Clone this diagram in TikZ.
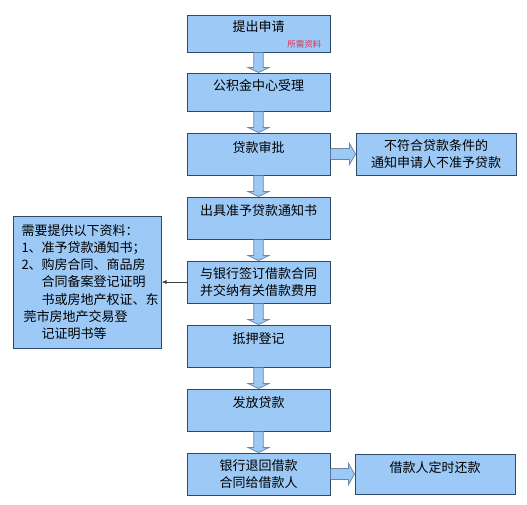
\documentclass[tikz,border=0pt]{standalone}
\usepackage{fontspec}
\setmainfont{Noto Sans CJK SC}
\usetikzlibrary{arrows.meta,positioning,calc}
\definecolor{boxfill}{HTML}{9CC9F5}
\definecolor{boxline}{HTML}{2E4A6B}
\definecolor{arrline}{HTML}{6F86A3}
\definecolor{notered}{HTML}{E0305A}
\begin{document}
\begin{tikzpicture}[x=1pt, y=-1pt,
  font=\fontsize{13}{17.3}\selectfont,
  box/.style={draw=boxline, line width=1pt, fill=boxfill, align=center, inner sep=3pt,
    minimum width=143pt, minimum height=42pt},
  one/.style={text depth=15pt},
  side/.style={box, minimum width=160pt},
  note/.style={font=\fontsize{8.5}{10}\selectfont, text=notered, inner sep=1pt},
  darr/.style={draw=arrline, fill=boxfill, line width=0.8pt,
    to path={($(\tikztostart.south)+(-4.75,0)$) -- ($(\tikztotarget.north)+(-4.75,-5)$)
      -- ($(\tikztotarget.north)+(-10.5,-5)$) -- (\tikztotarget.north)
      -- ($(\tikztotarget.north)+(10.5,-5)$) -- ($(\tikztotarget.north)+(4.75,-5)$)
      -- ($(\tikztostart.south)+(4.75,0)$)}},
  rarr/.style={draw=arrline, fill=boxfill, line width=0.8pt,
    to path={($(\tikztostart.east)+(0,-5.5)$) -- ($(\tikztotarget.west)+(-6,-5.5)$)
      -- ($(\tikztotarget.west)+(-6,-10.5)$) -- (\tikztotarget.west)
      -- ($(\tikztotarget.west)+(-6,10.5)$) -- ($(\tikztotarget.west)+(-6,5.5)$)
      -- ($(\tikztostart.east)+(0,5.5)$)}},
  arr/.style={-{Latex[length=5pt,width=4pt]}, draw=black!75, line width=0.8pt}
]
\useasboundingbox (0,0) rectangle (527,504);

\node[box, one, minimum height=37pt] (apply) at (258.5,33.5) {提出申请};
\node[note, anchor=south east] (need) at ([xshift=-8pt,yshift=3pt]apply.south east) {所需资料};
\node[box, one, minimum height=38pt, below=20pt of apply] (accept) {公积金中心受理};
\node[box, one, below=21pt of accept] (check) {贷款审批};
\node[box, one, below=21pt of check] (notice) {出具准予贷款通知书};
\node[box, below=21pt of notice] (sign) {与银行签订借款合同\\并交纳有关借款费用};
\node[box, one, below=21pt of sign] (pledge) {抵押登记};
\node[box, one, below=21pt of pledge] (lend) {发放贷款};
\node[box, below=21pt of lend] (back) {银行退回借款\\合同给借款人};

\node[side, right=25pt of check] (reject) {不符合贷款条件的\\通知申请人不准予贷款};
\node[side, one, minimum height=40pt, right=24pt of back] (repay) {借款人定时还款};
\node[box, align=left, text width=131pt, minimum width=148pt, minimum height=132pt,
  left=25pt of sign] (docs)
  {需要提供以下资料：\\
   \makebox[20pt][l]{1、}准予贷款通知书；\\
   \makebox[20pt][l]{2、}购房合同、商品房\\
   \hspace*{20pt}合同备案登记证明\\
   \hspace*{20pt}书或房地产权证、东\\
   \hspace*{2pt}莞市房地产交易登\\
   \hspace*{20pt}记证明书等};

\draw[darr] (apply) to (accept);
\draw[darr] (accept) to (check);
\draw[darr] (check) to (notice);
\draw[darr] (notice) to (sign);
\draw[darr] (sign) to (pledge);
\draw[darr] (pledge) to (lend);
\draw[darr] (lend) to (back);
\draw[rarr] (check) to (reject);
\draw[rarr] (back) to (repay);
\draw[arr] (sign.west) -- (docs.east);

\end{tikzpicture}
\end{document}
